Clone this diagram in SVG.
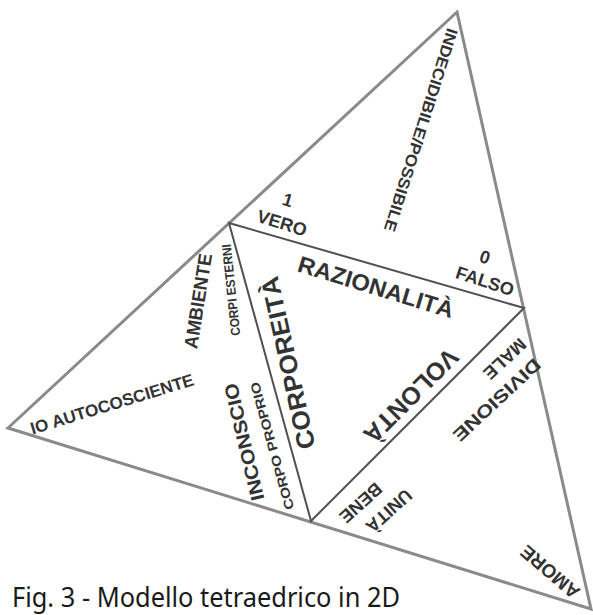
<svg xmlns="http://www.w3.org/2000/svg" width="593" height="615" viewBox="0 0 593 615">
<style>
.outer{fill:none;stroke:#8a8a8a;stroke-width:3;stroke-linejoin:miter}
.inner{fill:none;stroke:#505050;stroke-width:2}
.t{font-family:"Liberation Sans",Arial,sans-serif;font-weight:bold;fill:#333333;text-anchor:middle}
.cap{font-family:"Noto Sans",Lato,sans-serif;fill:#1a1a1a;font-size:28px}
</style>
<rect width="593" height="615" fill="#ffffff"/>
<g id="connectors">
<polygon class="outer" points="457,12 591,609 8,428"/>
<polygon class="inner" points="229,223 524,308 311,521"/>
</g>
<g id="vertex-top"><text class="t" font-size="16" transform="translate(421,130) rotate(107.5)" dy="0.35em" textLength="212" lengthAdjust="spacingAndGlyphs">INDECIDIBILE/POSSIBILE</text></g>
<g id="vero"><text class="t" font-size="18" transform="translate(288,200) rotate(17)" dy="0.35em">1</text><text class="t" font-size="18" transform="translate(282,223) rotate(17)" dy="0.35em">VERO</text></g>
<g id="falso"><text class="t" font-size="18" transform="translate(485,257) rotate(18)" dy="0.35em">0</text><text class="t" font-size="18" transform="translate(485,281) rotate(18)" dy="0.35em">FALSO</text></g>
<g id="razionalita"><text class="t" font-size="23" transform="translate(376,287) rotate(17)" dy="0.35em" textLength="162" lengthAdjust="spacingAndGlyphs">RAZIONALITÀ</text></g>
<g id="ambiente"><text class="t" font-size="19" transform="translate(198,301) rotate(-81)" dy="0.35em" textLength="96" lengthAdjust="spacingAndGlyphs">AMBIENTE</text></g>
<g id="corpi-esterni"><text class="t" font-size="13" transform="translate(231,290) rotate(-96)" dy="0.35em" textLength="92" lengthAdjust="spacingAndGlyphs">CORPI ESTERNI</text></g>
<g id="io"><text class="t" font-size="17" transform="translate(112,404) rotate(-17)" dy="0.35em" textLength="170" lengthAdjust="spacingAndGlyphs">IO AUTOCOSCIENTE</text></g>
<g id="corporeita"><text class="t" font-size="25" transform="translate(288,363) rotate(-102.5)" dy="0.35em" textLength="176" lengthAdjust="spacingAndGlyphs">CORPOREITÀ</text></g>
<g id="inconscio"><text class="t" font-size="19" transform="translate(244,442) rotate(-103.4)" dy="0.35em" textLength="120" lengthAdjust="spacingAndGlyphs">INCONSCIO</text></g>
<g id="corpo-proprio"><text class="t" font-size="13" transform="translate(272,446) rotate(-105.6)" dy="0.35em" textLength="132" lengthAdjust="spacingAndGlyphs">CORPO PROPRIO</text></g>
<g id="volonta"><text class="t" font-size="25" transform="translate(411,396) rotate(135)" dy="0.35em" textLength="122" lengthAdjust="spacingAndGlyphs">VOLONTÀ</text></g>
<g id="divisione"><text class="t" font-size="18" transform="translate(497,400) rotate(137)" dy="0.35em" textLength="112" lengthAdjust="spacingAndGlyphs">DIVISIONE</text><text class="t" font-size="18" transform="translate(505,359) rotate(137)" dy="0.35em">MALE</text></g>
<g id="unita"><text class="t" font-size="18" transform="translate(389,511) rotate(138)" dy="0.35em">UNITÀ</text><text class="t" font-size="18" transform="translate(361,503) rotate(138)" dy="0.35em">BENE</text></g>
<g id="amore"><text class="t" font-size="19" transform="translate(550,572) rotate(220.5)" dy="0.35em">AMORE</text></g>
<text class="cap" x="12" y="607" textLength="388" lengthAdjust="spacingAndGlyphs">Fig. 3 - Modello tetraedrico in 2D</text>
</svg>
